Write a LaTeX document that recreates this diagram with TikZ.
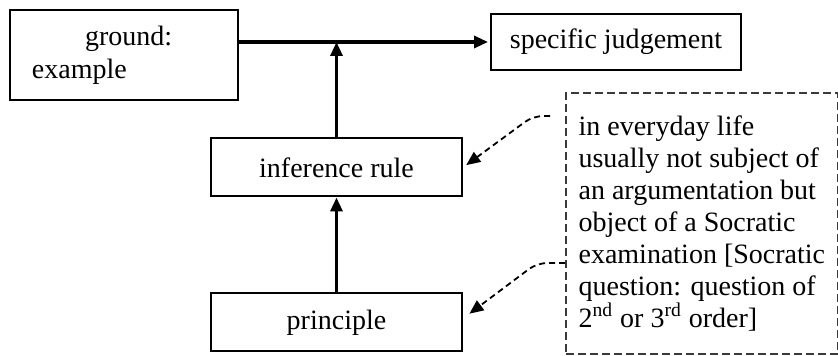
\documentclass[tikz,border=0pt]{standalone}
\usepackage{fontspec}
\setmainfont{Liberation Serif}
\usetikzlibrary{arrows.meta, positioning, calc}
\definecolor{notegrey}{HTML}{3A3A3A}

\begin{document}
\begin{tikzpicture}[x=0.5pt, y=-0.5pt,
    box/.style={draw, line width=1pt, align=center, inner sep=0pt,
                minimum width=125.5pt, minimum height=29pt,
                font=\fontsize{14}{16.5}\selectfont},
    note/.style={draw=notegrey, dash pattern=on 4pt off 2pt, line width=0.8pt,
                 align=left, inner sep=0pt, minimum width=136pt,
                 minimum height=130.5pt, font=\fontsize{14}{16}\selectfont},
    arr/.style={-{Triangle[length=7pt, width=6pt]}, line width=1.6pt},
    darr/.style={-{Triangle[length=7pt, width=6pt]}, line width=0.9pt,
                 dash pattern=on 3pt off 2pt, rounded corners=5pt}]
  \useasboundingbox (0,0) rectangle (838,356);
  \node[box, minimum width=114pt, minimum height=45pt, align=left,
        inner xsep=11pt, text width=92pt] (ground) at (124,55)
        {\hspace*{26.5pt}ground:\\example};
  \node[box, minimum width=125pt, minimum height=28pt] (spec) at (616,42) {specific judgement};
  \node[box] (infer) at (336.5,167.5) {inference rule};
  \node[box, below=47.5pt of infer] (princ) {principle};
  \node[note, anchor=north west] (remark) at (565,92)
        {in everyday life\\usually not subject of\\an argumentation but\\object of a Socratic\\examination [Socratic\\question: question of\\2\textsuperscript{nd} or 3\textsuperscript{rd} order]};
  \draw[arr, shorten >=1pt] (ground.east |- spec.west) -- (spec.west);
  \draw[arr] (infer.north) -- (infer.north |- spec.west);
  \draw[arr] (princ.north) -- (infer.south);
  \coordinate (r1) at ([xshift=-7.5pt]remark.west |- 0,116);
  \coordinate (r2) at (remark.west |- 0,263);
  \draw[darr, shorten >=2pt] (r1) -- ++(-17,0) -- (infer.east);
  \draw[darr, shorten >=4pt] (r2) -- ++(-28,0) -- ([yshift=2pt]princ.east);
\end{tikzpicture}
\end{document}
